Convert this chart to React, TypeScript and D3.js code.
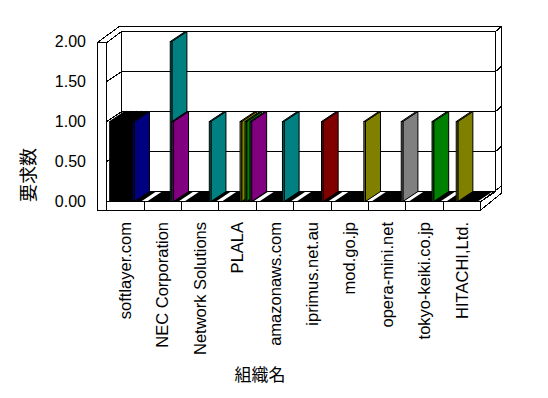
import React from 'react';
import * as d3 from 'd3';

const width = 548;
const height = 398;

const categories = [
  'softlayer.com',
  'NEC Corporation',
  'Network Solutions',
  'PLALA',
  'amazonaws.com',
  'iprimus.net.au',
  'mod.go.jp',
  'opera-mini.net',
  'tokyo-keiki.co.jp',
  'HITACHI,Ltd.',
];
const yTicks = [0, 0.5, 1, 1.5, 2];
const slotCount = 19;

// one entry per non-zero bar: category index, slot in the cluster, value, colour
const barCat = [0, 0, 0, 0, 0, 0, 0, 0, 0, 0, 0, 0, 0, 0, 0, 1, 1, 2, 3, 3, 3, 4, 5, 6, 7, 8, 9];
const barSlot = [0, 1, 2, 3, 4, 5, 6, 7, 8, 9, 10, 11, 12, 13, 14, 14, 15, 15, 11, 14, 17, 14, 15, 18, 18, 14, 6];
const barValue = [1, 1, 1, 1, 1, 1, 1, 1, 1, 1, 1, 1, 1, 1, 1, 2, 1, 1, 1, 1, 1, 1, 1, 1, 1, 1, 1];
const barColor = [
  '#000000', '#000000', '#000000', '#000000', '#000000', '#000000', '#000000',
  '#000000', '#000000', '#000000', '#000000', '#000000', '#000000', '#000000',
  '#000080', '#008080', '#800080', '#008080', '#808000', '#008000', '#800080',
  '#008080', '#800000', '#808000', '#808080', '#008000', '#808000',
];

// frame geometry
const X0 = 106.7;
const X1 = 480.7;
const DX = 15;
const DY = 10;
const WALL_L = 97.3;
const FLOOR_B = 210;
const OUT_R = 501.7;
const OUT_T = 26;

const xCat = d3.scaleBand<string>().domain(categories).range([X0, X1]).paddingInner(0.16).paddingOuter(0.08);
const xSlot = d3.scaleBand<number>().domain(d3.range(slotCount)).range([0, xCat.bandwidth()]);
const y = d3.scaleLinear().domain([0, 2]).range([201.5, 41.5]);

const pts = (p: number[][]) => p.map((d) => d.join(',')).join(' ');

export default function App() {
  const y0 = y(0);
  const yTop = y(2);
  const font = '"Liberation Sans", Arial, sans-serif';
  const cjk = '"Noto Sans CJK JP", sans-serif';

  const bars = barCat
    .map((c, i) => ({
      x: (xCat(categories[c]) as number) + (xSlot(barSlot[i]) as number),
      v: barValue[i],
      color: barColor[i],
    }))
    .sort((a, b) => a.x - b.x);
  const w = xSlot.bandwidth();

  return (
    <svg width={width} height={height} style={{ position: 'absolute', left: 0, top: 0, background: '#fff' }}>
      <g fill="none" stroke="#000" strokeWidth={1} shapeRendering="crispEdges">
        {/* back wall */}
        <rect x={X0 + DX} y={yTop - DY} width={X1 - X0} height={y0 - yTop} fill="#fff" />
        {yTicks.slice(1, 4).map((t) => (
          <g key={t}>
            <line x1={X0 + DX} x2={X1 + DX} y1={y(t) - DY} y2={y(t) - DY} />
            <line x1={X1 + DX} x2={OUT_R} y1={y(t) - DY} y2={y(t) - DY - 5.5} />
            <line x1={X0} x2={X0 + DX} y1={y(t)} y2={y(t) - DY} />
            <line x1={WALL_L} x2={X0} y1={y(t)} y2={y(t)} />
          </g>
        ))}
        {/* outer frame of walls */}
        <polyline points={pts([[WALL_L, yTop + 1], [X0 + DX - 1.7, OUT_T], [OUT_R, OUT_T], [OUT_R, 187]])} />
        <polyline points={pts([[X0, yTop + 1], [X0 + DX, yTop - DY]])} />
        <line x1={X1 + DX} x2={OUT_R} y1={yTop - DY} y2={OUT_T} />
        {/* left wall front face */}
        <rect x={WALL_L} y={yTop + 1} width={X0 - WALL_L} height={FLOOR_B - yTop - 1} fill="#fff" />
        {/* floor front + side */}
        <rect x={X0} y={y0} width={X1 - X0} height={FLOOR_B - y0} fill="#fff" />
        <polygon points={pts([[X1, y0], [X1, FLOOR_B], [OUT_R, FLOOR_B - 17], [OUT_R, y0 - 15.5]])} fill="#fff" />
        <line x1={X1} x2={X1 + DX} y1={y0} y2={y0 - DY} />
        {d3.range(1, categories.length).map((i) => (
          <line key={i} x1={X0 + i * xCat.step()} x2={X0 + i * xCat.step()} y1={y0} y2={FLOOR_B} />
        ))}
      </g>

      {/* floor bands of zero-height bars */}
      {categories.map((c) => {
        const a = xCat(c) as number;
        const b = a + xCat.bandwidth();
        return (
          <polygon
            key={c}
            points={pts([[a, y0], [b, y0], [b + DX, y0 - DY], [a + DX, y0 - DY]])}
            fill="#000"
          />
        );
      })}

      {/* bars */}
      <g stroke="#000" strokeWidth={1} strokeLinejoin="miter">
        {bars.map((b, i) => {
          const yv = y(b.v);
          return (
            <g key={i} fill={b.color}>
              <polygon points={pts([[b.x + w, yv], [b.x + w + DX, yv - DY], [b.x + w + DX, y0 - DY], [b.x + w, y0]])} />
              <polygon points={pts([[b.x, yv], [b.x + w, yv], [b.x + w + DX, yv - DY], [b.x + DX, yv - DY]])} />
              <rect x={b.x} y={yv} width={w} height={y0 - yv} />
            </g>
          );
        })}
      </g>

      {/* y tick labels */}
      {yTicks.map((t) => (
        <text key={t} x={86} y={y(t)} dy="0.35em" textAnchor="end" fontFamily={font} fontSize={16}>
          {t.toFixed(2)}
        </text>
      ))}

      {/* category labels */}
      {categories.map((c) => {
        const cx = (xCat(c) as number) + xCat.bandwidth() / 2 + 5.5;
        return (
          <text
            key={c}
            transform={`translate(${cx},222) rotate(-90)`}
            textAnchor="end"
            fontFamily={font}
            fontSize={16.5}
          >
            {c}
          </text>
        );
      })}

      <text transform="translate(29,175) rotate(-90)" textAnchor="middle" dy="0.35em" fontFamily={cjk} fontSize={18}>
        要求数
      </text>
      <text x={260} y={375} textAnchor="middle" dy="0.35em" fontFamily={cjk} fontSize={17}>
        組織名
      </text>
    </svg>
  );
}
